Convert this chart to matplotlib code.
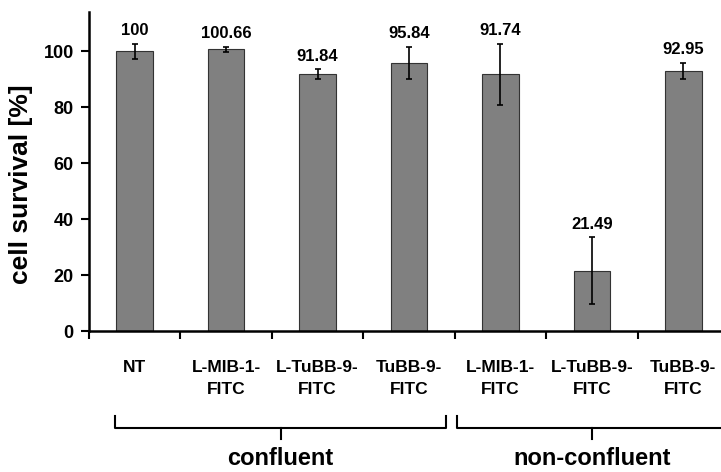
import matplotlib.pyplot as plt

categories = ["NT", "L-MIB-1-\nFITC", "L-TuBB-9-\nFITC", "TuBB-9-\nFITC",
              "L-MIB-1-\nFITC", "L-TuBB-9-\nFITC", "TuBB-9-\nFITC"]
survival = [100, 100.66, 91.84, 95.84, 91.74, 21.49, 92.95]
errors = [2.7, 1.0, 1.7, 5.8, 10.9, 12.0, 3.0]
labels = ["100", "100.66", "91.84", "95.84", "91.74", "21.49", "92.95"]
groups = ["confluent", "non-confluent"]

plt.rcParams["font.family"] = ["Liberation Sans", "DejaVu Sans"]
plt.rcParams["font.weight"] = "bold"

fig = plt.figure(figsize=(7.21, 4.72), dpi=100)
ax = fig.add_axes([89/721, 1-331/472, 640/721, 319/472])

x = range(len(categories))
ax.bar(x, survival, width=0.4, color="#808080", edgecolor="#333333", linewidth=0.8,
       yerr=errors, error_kw=dict(ecolor="black", elinewidth=1.2, capsize=2.5, capthick=1.2))

for i in x:
    ax.annotate(labels[i], (i, survival[i] + errors[i]), xytext=(0, 4),
                textcoords="offset points", ha="center", va="bottom",
                fontsize=12, fontweight="bold")

ax.set_xlim(-0.5, 6.5)
ax.set_ylim(0, 114)
ax.set_yticks([0, 20, 40, 60, 80, 100])
ax.set_xticks(list(x))
ax.set_xticklabels(categories, fontsize=12.5, fontweight="bold", linespacing=1.55)
ax.set_xticks([i - 0.5 for i in range(len(categories) + 1)], minor=True)
ax.tick_params(axis="x", which="major", length=0, pad=21)
ax.tick_params(axis="x", which="minor", length=6, width=1.5, direction="out")
ax.tick_params(axis="y", length=6, width=1.5, direction="out", pad=5)
for t in ax.get_yticklabels():
    t.set_fontsize(13)
    t.set_fontweight("bold")

for s in ["top", "right"]:
    ax.spines[s].set_visible(False)
for s in ["left", "bottom"]:
    ax.spines[s].set_linewidth(1.8)

ax.set_ylabel("cell survival [%]", fontsize=19, fontweight="bold")
ax.yaxis.set_label_coords(-0.087, 0.46)

# group brackets below the axis
tr = ax.get_xaxis_transform()
spans = [(-0.22, 3.41), (3.525, 6.475)]
for (a, b), name in zip(spans, groups):
    mid = (a + b) / 2
    ax.plot([a, a, b, b], [-0.266, -0.304, -0.304, -0.266], color="black", lw=1.5,
            transform=tr, clip_on=False)
    ax.plot([mid, mid], [-0.304, -0.339], color="black", lw=1.5, transform=tr, clip_on=False)
    ax.text(mid, -0.40, name, transform=tr, ha="center", va="center",
            fontsize=17, fontweight="bold")

fig.savefig("out.png", dpi=100)
